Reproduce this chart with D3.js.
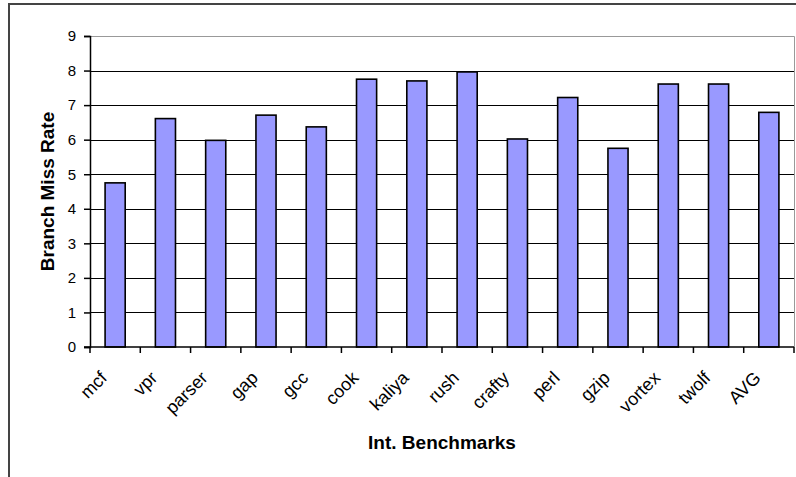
<!DOCTYPE html>
<html>
<head>
<meta charset="utf-8">
<script src="https://cdn.jsdelivr.net/npm/d3@7"></script>
<style>
  html, body { margin: 0; padding: 0; background: #fff; }
  svg { display: block; }
</style>
</head>
<body>
<svg id="chart" width="796" height="477"></svg>
<script>
const categories = ["mcf", "vpr", "parser", "gap", "gcc", "cook", "kaliya", "rush", "crafty", "perl", "gzip", "vortex", "twolf", "AVG"];
const missRate = [4.75, 6.61, 5.98, 6.71, 6.37, 7.75, 7.70, 7.96, 6.02, 7.22, 5.75, 7.61, 7.61, 6.79];
const yTicks = [0, 1, 2, 3, 4, 5, 6, 7, 8, 9];
const yTitle = "Branch Miss Rate";
const xTitle = "Int. Benchmarks";

const svg = d3.select("#chart");
const font = "Arial, 'Liberation Sans', sans-serif";

// outer chart border
svg.append("path")
  .attr("d", "M9,477 L9,4 L796,4")
  .attr("fill", "none")
  .attr("stroke", "#444")
  .attr("stroke-width", 2);

const plot = { left: 90, right: 794, top: 36, bottom: 347 };

const x = d3.scaleBand()
  .domain(categories)
  .range([plot.left, plot.right])
  .paddingInner(0.6)
  .paddingOuter(0.3);

const y = d3.scaleLinear()
  .domain([0, 9])
  .range([plot.bottom, plot.top]);

// gridlines
svg.append("g")
  .selectAll("line")
  .data(yTicks.filter(d => d > 0 && d < 9))
  .join("line")
  .attr("x1", plot.left).attr("x2", plot.right)
  .attr("y1", d => Math.round(y(d)) + 0.5).attr("y2", d => Math.round(y(d)) + 0.5)
  .attr("stroke", "#000").attr("stroke-width", 1);

// plot area border (top, right) gray
svg.append("path")
  .attr("d", `M${plot.left},${plot.top + 0.5} L${plot.right + 0.5},${plot.top + 0.5} L${plot.right + 0.5},${plot.bottom}`)
  .attr("fill", "none")
  .attr("stroke", "#999")
  .attr("stroke-width", 1);

// bars
svg.append("g")
  .selectAll("rect")
  .data(categories.map((c, i) => ({ c, v: missRate[i] })))
  .join("rect")
  .attr("x", d => x(d.c))
  .attr("y", d => y(d.v))
  .attr("width", x.bandwidth())
  .attr("height", d => y(0) - y(d.v))
  .attr("fill", "#9999FF")
  .attr("stroke", "#000")
  .attr("stroke-width", 1.6);

// y axis
const yAxis = svg.append("g")
  .attr("transform", `translate(${plot.left},0)`)
  .call(d3.axisLeft(y).tickValues(yTicks).tickSize(6).tickPadding(8).tickFormat(d3.format("d")));
yAxis.select(".domain").attr("stroke", "#000").attr("stroke-width", 1.5);
yAxis.selectAll(".tick line").attr("stroke", "#000").attr("stroke-width", 1.5);
yAxis.selectAll(".tick text")
  .attr("font-family", font).attr("font-size", 15).attr("fill", "#000");

// x axis with ticks at category boundaries
const boundaries = d3.range(categories.length + 1).map(i => plot.left + i * (plot.right - plot.left) / categories.length);
const xAxisG = svg.append("g");
xAxisG.append("line")
  .attr("x1", plot.left - 6).attr("x2", plot.right)
  .attr("y1", plot.bottom).attr("y2", plot.bottom)
  .attr("stroke", "#000").attr("stroke-width", 1.5);
xAxisG.selectAll("line.tk")
  .data(boundaries)
  .join("line")
  .attr("class", "tk")
  .attr("x1", d => d).attr("x2", d => d)
  .attr("y1", plot.bottom).attr("y2", plot.bottom + 6)
  .attr("stroke", "#000").attr("stroke-width", 1.5);

xAxisG.selectAll("text")
  .data(categories)
  .join("text")
  .attr("transform", d => `translate(${x(d) + x.bandwidth() / 2 - 7},${plot.bottom + 32}) rotate(-45)`)
  .attr("text-anchor", "end")
  .attr("font-family", font)
  .attr("font-size", 18)
  .attr("fill", "#000")
  .text(d => d);

// axis titles
svg.append("text")
  .attr("transform", `translate(54,${(plot.top + plot.bottom) / 2}) rotate(-90)`)
  .attr("text-anchor", "middle")
  .attr("font-family", font)
  .attr("font-weight", "bold")
  .attr("font-size", 19)
  .text(yTitle);

svg.append("text")
  .attr("x", (plot.left + plot.right) / 2)
  .attr("y", 449)
  .attr("text-anchor", "middle")
  .attr("font-family", font)
  .attr("font-weight", "bold")
  .attr("font-size", 19)
  .text(xTitle);
</script>
</body>
</html>
